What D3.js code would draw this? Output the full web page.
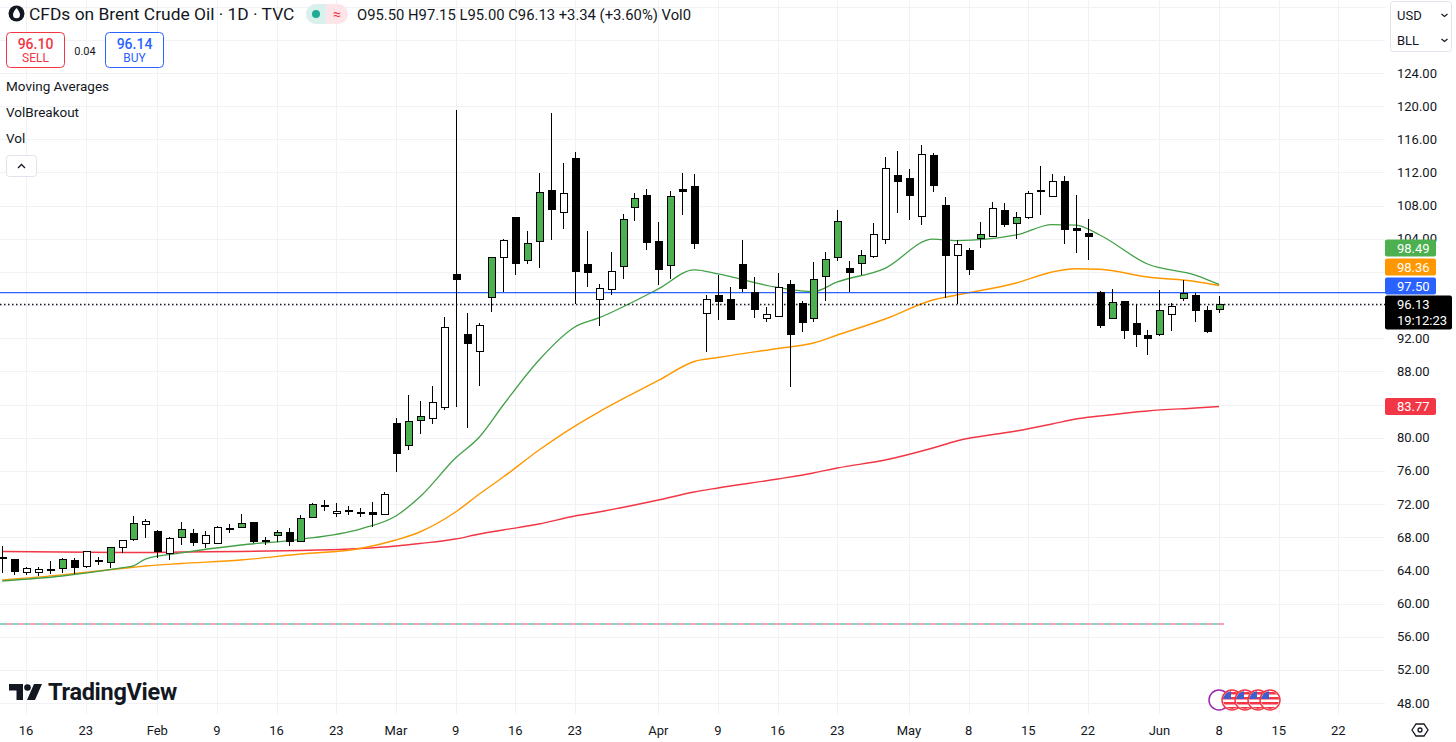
<!DOCTYPE html>
<html>
<head>
<meta charset="utf-8">
<script src="https://cdn.jsdelivr.net/npm/d3@7"></script>
<style>
  html, body { margin: 0; padding: 0; background: #fff; }
  svg { display: block; font-family: Roboto, "Noto Sans", sans-serif; }
</style>
</head>
<body>
<svg id="chart" width="1456" height="742"></svg>
<script>
// Velas diarias (indice de sesion 0 = 14 ene)
const opens = [65.6,65.34,63.77,63.7,64.1,64.2,65.17,64.45,65.2,64.97,
  66.74,67.75,69.56,68.67,66.06,67.99,68.47,67.27,67.27,69.03,
  69.15,69.75,67.58,68.15,68.59,67.46,70.35,71.8,70.88,71.23,
  71.03,71.0,70.8,81.66,79.12,82.06,82.34,83.67,99.75,92.48,
  90.46,96.94,101.77,106.51,101.44,103.7,109.8,107.16,113.71,100.93,
  96.62,97.94,100.63,107.79,109.28,103.66,100.72,109.97,110.29,95.0,
  97.1,96.62,100.93,97.5,94.41,94.6,98.43,96.22,94.41,99.43,
  101.77,100.36,100.96,101.85,103.93,111.58,111.29,106.67,114.03,107.96,
  101.96,102.53,104.01,104.25,107.47,105.87,106.55,109.83,109.08,110.97,
  105.26,104.66,97.55,94.41,96.46,93.8,92.36,92.48,94.89,96.82,
  97.18,95.29,95.50]
const highs = [66.9,65.4,64.45,64.45,65.1,65.5,65.45,66.35,65.65,66.8,
  67.7,70.6,70.23,68.87,68.06,69.8,68.95,68.79,69.39,69.55,
  70.8,69.87,68.06,68.87,69.07,70.68,72.16,72.49,72.1,71.77,
  71.56,72.28,73.49,82.34,85.16,84.47,86.27,94.6,119.54,95.08,
  93.8,101.84,103.94,106.51,104.98,111.9,119.14,113.11,114.43,104.98,
  98.5,102.44,106.99,109.49,109.97,105.99,109.77,111.9,111.82,97.22,
  99.63,98.22,103.85,99.43,95.81,99.84,99.03,96.46,101.16,102.37,
  107.47,101.36,102.65,105.87,113.83,114.63,112.38,115.28,114.31,109.0,
  103.86,102.93,105.99,108.48,108.28,107.19,109.77,112.78,111.82,111.58,
  109.28,106.39,97.7,97.91,96.46,96.1,93.0,97.82,96.3,99.03,
  97.5,95.89,97.15]
const lows = [63.7,63.4,63.45,63.35,63.6,63.65,63.55,64.3,64.6,64.25,
  66.13,67.58,67.87,65.45,65.25,67.06,66.94,66.67,67.18,68.45,
  69.15,67.27,67.06,67.46,66.94,67.46,70.27,71.2,70.4,70.68,
  70.48,69.27,70.68,75.9,78.52,80.45,81.66,83.35,83.75,81.21,
  86.27,95.2,97.62,99.63,100.93,100.44,103.86,105.15,96.13,98.23,
  93.48,97.22,99.11,106.18,102.65,98.43,99.15,106.87,102.77,90.38,
  94.2,94.29,97.62,94.41,94.0,94.6,86.15,92.79,93.93,96.53,
  101.36,97.62,99.63,101.64,103.37,107.15,106.27,105.66,109.68,96.82,
  96.13,99.63,102.85,104.25,105.46,103.95,106.35,106.87,109.08,103.33,
  102.32,101.44,93.28,94.41,91.88,90.9,89.98,92.27,92.88,96.54,
  94.0,92.67,95.00]
const closes = [65.4,63.9,64.17,64.1,64.0,65.34,64.37,66.26,65.05,66.75,
  67.66,69.68,69.87,66.26,67.79,68.87,67.34,68.15,69.19,68.95,
  69.6,67.54,67.5,68.59,67.46,70.27,71.97,71.74,71.16,71.17,
  70.97,70.8,73.17,78.12,81.94,82.54,84.23,93.32,99.03,91.39,
  93.56,101.72,103.82,101.05,103.46,109.64,107.59,109.49,100.04,99.91,
  98.02,100.11,106.27,108.84,103.53,100.24,109.16,109.68,103.46,96.73,
  96.4,94.29,98.02,95.41,94.89,98.15,92.48,93.88,99.03,101.56,
  106.06,99.91,101.97,104.5,112.5,110.89,109.28,114.11,110.37,101.97,
  103.34,100.24,104.54,107.68,105.75,106.55,109.49,109.77,110.89,105.18,
  104.94,104.25,93.6,96.34,92.91,92.48,91.95,95.29,95.89,97.34,
  95.33,92.79,96.13]
// b = negra, w = hueca, g = verde
const kinds = ("bbwwbgbwbg" + "wgwbwgbwwb" + "gbbgbggbwb" + "bbwbggwwbb" + "wgwbggbwbb" +
  "wwggbbgbbw" + "bbbbwwbbgg" + "gbgwwbbwbb" + "wbgwbgwbwb" + "bbbgbbbgwg" + "bbg").split('')

// Medias moviles
const maIdx  = [0,5,10,11,12,15,20,25,30,33,35,38,40,42,45,48,50,55,58,60,65,68,70,74,78,80,85,88,90,92,96,100,102]
const maFast = [62.72,63.32,64.29,64.53,65.37,66.10,67.06,67.75,68.99,70.56,72.85,77.55,80.09,83.95,89.38,93.36,94.45,97.95,100.24,99.76,98.13,97.62,98.79,100.44,103.97,103.77,104.46,105.72,105.66,104.46,100.96,99.63,98.49]
const maMid  = [62.84,63.46,64.23,64.38,64.53,64.83,65.25,65.97,66.64,67.66,68.63,71.04,73.21,75.26,78.52,81.41,83.10,86.91,89.20,89.68,90.77,91.43,92.39,94.32,96.62,97.22,98.67,99.99,100.39,100.32,99.39,98.85,98.36]
const maSlow = [66.28,66.22,66.16,66.16,66.16,66.22,66.28,66.40,66.64,66.94,67.24,67.78,68.39,68.87,69.59,70.56,71.04,72.49,73.46,73.94,75.02,75.75,76.35,77.31,78.76,79.61,80.81,81.66,82.26,82.62,83.23,83.59,83.77]

// Eje de tiempo
const tickIdx  = [2,7,13,18,23,28,33,38,43,48,55,60,65,70,76,81,86,91,97,102,107,112]
const tickText = ["16","23","Feb","9","16","23","Mar","9","16","23","Apr","9","16","23","May","8","15","22","Jun","8","15","22"]
// 100.00 y 96.00 quedan tapados por las etiquetas
const priceTicks = [48,52,56,60,64,68,72,76,80,84,88,92,104,108,112,116,120,124]
const gridPrices = d3.range(48, 133, 4)

// Niveles
const alertLevel = 97.50
const breakoutLevel = 57.53
const lastPrice = 96.13
const bid = 96.10
const ask = 96.14
const countdown = "19:12:23"

const plotW = 1385
const plotH = 714

const x = d3.scaleLinear().domain([0, 116]).range([2.2, 1386.1])
const y = d3.scaleLinear().domain([48, 124]).range([703, 73])

const svg = d3.select('#chart')
const ink = '#131722'

// Rejilla
const grid = svg.append('g')
grid.selectAll('line.h')
  .data(gridPrices)
  .join('line')
  .attr('x1', 0).attr('x2', plotW)
  .attr('y1', d => Math.round(y(d)) + 0.5)
  .attr('y2', d => Math.round(y(d)) + 0.5)
  .attr('stroke', '#f0f2f5')
grid.selectAll('line.v')
  .data(tickIdx)
  .join('line')
  .attr('x1', d => Math.round(x(d)) + 0.5)
  .attr('x2', d => Math.round(x(d)) + 0.5)
  .attr('y1', 0).attr('y2', plotH)
  .attr('stroke', '#f0f2f5')

// Linea VolBreakout (dos colores)
svg.append('line')
  .attr('x1', 0).attr('x2', x(102) + 5)
  .attr('y1', y(breakoutLevel)).attr('y2', y(breakoutLevel))
  .attr('stroke', '#8fcfc8').attr('stroke-width', 2)
  .attr('stroke-dasharray', '6,6')
svg.append('line')
  .attr('x1', 0).attr('x2', x(102) + 5)
  .attr('y1', y(breakoutLevel)).attr('y2', y(breakoutLevel))
  .attr('stroke', '#f4a3b0').attr('stroke-width', 2)
  .attr('stroke-dasharray', '6,6').attr('stroke-dashoffset', 6)

// Medias
const maLine = vals => d3.line()
  .x((d, k) => x(maIdx[k]))
  .y(d => y(d))
  .curve(d3.curveMonotoneX)(vals)

svg.append('path').attr('d', maLine(maSlow))
  .attr('fill', 'none').attr('stroke', '#f23645').attr('stroke-width', 1.4)
svg.append('path').attr('d', maLine(maMid))
  .attr('fill', 'none').attr('stroke', '#ff9800').attr('stroke-width', 1.4)
svg.append('path').attr('d', maLine(maFast))
  .attr('fill', 'none').attr('stroke', '#43a047').attr('stroke-width', 1.3)

// Lineas de precio
svg.append('line')
  .attr('x1', 0).attr('x2', plotW)
  .attr('y1', y(alertLevel)).attr('y2', y(alertLevel))
  .attr('stroke', '#2962ff').attr('stroke-width', 1.2)
svg.append('line')
  .attr('x1', 0).attr('x2', plotW)
  .attr('y1', Math.round(y(lastPrice)) + 0.5).attr('y2', Math.round(y(lastPrice)) + 0.5)
  .attr('stroke', ink).attr('stroke-width', 1.3)
  .attr('stroke-dasharray', '1.5,2.5')

// Velas
const candles = opens.map((o, i) => ({ i, o, h: highs[i], l: lows[i], c: closes[i], k: kinds[i] }))
const cg = svg.append('g').attr('shape-rendering', 'crispEdges')
cg.selectAll('line')
  .data(candles)
  .join('line')
  .attr('x1', d => Math.round(x(d.i)) + 0.5)
  .attr('x2', d => Math.round(x(d.i)) + 0.5)
  .attr('y1', d => y(d.h))
  .attr('y2', d => y(d.l))
  .attr('stroke', '#000')
cg.selectAll('rect')
  .data(candles)
  .join('rect')
  .attr('x', d => Math.round(x(d.i)) - 3)
  .attr('y', d => y(Math.max(d.o, d.c)))
  .attr('width', 7)
  .attr('height', d => Math.max(1, y(Math.min(d.o, d.c)) - y(Math.max(d.o, d.c))))
  .attr('fill', d => d.k === 'b' ? '#000' : d.k === 'g' ? '#4caf50' : '#fff')
  .attr('stroke', '#000')

// Eje de precios
svg.append('rect').attr('x', plotW).attr('y', 0).attr('width', 1456 - plotW).attr('height', 742).attr('fill', '#fff')
svg.append('g')
  .selectAll('text')
  .data(priceTicks)
  .join('text')
  .attr('x', 1397)
  .attr('y', d => y(d))
  .attr('dy', '0.35em')
  .attr('font-size', 13)
  .attr('fill', ink)
  .text(d => d.toFixed(2))

// Eje de tiempo
svg.append('g')
  .selectAll('text')
  .data(tickIdx)
  .join('text')
  .attr('x', d => x(d))
  .attr('y', 730)
  .attr('dy', '0.35em')
  .attr('text-anchor', 'middle')
  .attr('font-size', 13)
  .attr('fill', ink)
  .text((d, k) => tickText[k])

// Etiquetas de precio
const lastY = y(lastPrice)
const tags = [
  { v: maFast[maFast.length - 1], c: '#4caf50', cy: lastY - 56 },
  { v: maMid[maMid.length - 1], c: '#ff9800', cy: lastY - 37 },
  { v: alertLevel, c: '#2962ff', cy: lastY - 18 },
  { v: maSlow[maSlow.length - 1], c: '#f23645', cy: y(maSlow[maSlow.length - 1]) }
]
const tg = svg.append('g')
tg.selectAll('rect')
  .data(tags)
  .join('rect')
  .attr('x', plotW).attr('y', d => d.cy - 8.5)
  .attr('width', 51).attr('height', 17).attr('rx', 2)
  .attr('fill', d => d.c)
tg.selectAll('text')
  .data(tags)
  .join('text')
  .attr('x', 1397).attr('y', d => d.cy).attr('dy', '0.35em')
  .attr('font-size', 13).attr('fill', '#fff')
  .text(d => d.v.toFixed(2))
svg.append('rect')
  .attr('x', plotW).attr('y', lastY - 8.5).attr('width', 67).attr('height', 34).attr('rx', 2)
  .attr('fill', '#000')
svg.append('text').attr('x', 1397).attr('y', lastY).attr('dy', '0.35em')
  .attr('font-size', 13).attr('fill', '#fff').text(lastPrice.toFixed(2))
svg.append('text').attr('x', 1397).attr('y', lastY + 16).attr('dy', '0.35em')
  .attr('font-size', 13).attr('fill', '#fff').text(countdown)

// Cabecera
svg.append('circle').attr('cx', 16.5).attr('cy', 13.5).attr('r', 8).attr('fill', ink)
svg.append('path')
  .attr('d', 'M16.5,8 C14.5,10.5 13,12.8 13,14.8 a3.5,3.5 0 0 0 7,0 C20,12.8 18.5,10.5 16.5,8 Z')
  .attr('fill', '#fff')
svg.append('text')
  .attr('x', 29).attr('y', 20)
  .attr('font-size', 17.4).attr('fill', ink)
  .text('CFDs on Brent Crude Oil · 1D · TVC')

svg.append('rect').attr('x', 306).attr('y', 4).attr('width', 42).attr('height', 20).attr('rx', 10).attr('fill', '#fde4e8')
svg.append('path').attr('d', 'M326,4 h-10 a10,10 0 0 0 0,20 h10 Z').attr('fill', '#d9f1ed')
svg.append('circle').attr('cx', 316).attr('cy', 14).attr('r', 4).attr('fill', '#22ab94')
svg.append('text').attr('x', 337).attr('y', 14).attr('dy', '0.35em').attr('text-anchor', 'middle')
  .attr('font-size', 14).attr('fill', '#f23645').text('≈')

const last = opens.length - 1
const chg = closes[last] - closes[last - 1]
svg.append('text')
  .attr('x', 357).attr('y', 19.5)
  .attr('font-size', 14.8).attr('fill', ink)
  .text(`O${opens[last].toFixed(2)} H${highs[last].toFixed(2)} L${lows[last].toFixed(2)} C${closes[last].toFixed(2)} +${chg.toFixed(2)} (+${(chg / closes[last - 1] * 100).toFixed(2)}%) Vol0`)

// Botones de compra / venta
const quote = [
  { x: 6.5, v: bid, t: 'SELL', c: '#f23645' },
  { x: 105.5, v: ask, t: 'BUY', c: '#2962ff' }
]
const qg = svg.append('g')
qg.selectAll('rect').data(quote).join('rect')
  .attr('x', d => d.x).attr('y', 32.5).attr('width', 58).attr('height', 35).attr('rx', 4)
  .attr('fill', '#fff').attr('stroke', d => d.c)
qg.selectAll('text.v').data(quote).join('text')
  .attr('x', d => d.x + 29).attr('y', 44).attr('dy', '0.35em').attr('text-anchor', 'middle')
  .attr('font-size', 14).attr('font-weight', 500).attr('fill', d => d.c).text(d => d.v.toFixed(2))
svg.append('g').selectAll('text').data(quote).join('text')
  .attr('x', d => d.x + 29).attr('y', 58).attr('dy', '0.35em').attr('text-anchor', 'middle')
  .attr('font-size', 12).attr('fill', d => d.c).text(d => d.t)
svg.append('text').attr('x', 85).attr('y', 51).attr('dy', '0.35em').attr('text-anchor', 'middle')
  .attr('font-size', 11).attr('fill', ink).text((ask - bid).toFixed(2))

// Indicadores
svg.append('g').selectAll('text')
  .data(['Moving Averages', 'VolBreakout', 'Vol'])
  .join('text')
  .attr('x', 6).attr('y', (d, k) => 86 + k * 26).attr('dy', '0.35em')
  .attr('font-size', 13.5).attr('fill', ink)
  .text(d => d)
svg.append('rect').attr('x', 6.5).attr('y', 155.5).attr('width', 30).attr('height', 21).attr('rx', 3)
  .attr('fill', '#fff').attr('stroke', '#e0e3eb')
svg.append('path').attr('d', 'M18,168 l3.5,-3.5 l3.5,3.5').attr('fill', 'none').attr('stroke', ink).attr('stroke-width', 1.3)

// Moneda / unidad
svg.append('rect').attr('x', 1390.5).attr('y', 1.5).attr('width', 61).attr('height', 50).attr('rx', 3)
  .attr('fill', '#fff').attr('stroke', '#e0e3eb')
svg.append('g').selectAll('text').data(['USD', 'BLL']).join('text')
  .attr('x', 1397).attr('y', (d, k) => 15 + k * 25).attr('dy', '0.35em')
  .attr('font-size', 13).attr('fill', ink).text(d => d)
svg.append('g').selectAll('path').data([0, 1]).join('path')
  .attr('d', k => `M1441.5,${14 + k * 25} l3,2.5 l3,-2.5`)
  .attr('fill', 'none').attr('stroke', ink).attr('stroke-width', 1.2)

// Logo TradingView
svg.append('path').attr('d', 'M9,684 h14 v16 h-6.5 v-9.5 h-7.5 Z').attr('fill', ink)
svg.append('circle').attr('cx', 27.5).attr('cy', 687.5).attr('r', 3.3).attr('fill', ink)
svg.append('path').attr('d', 'M34,684 h8 l-7,16 h-8 Z').attr('fill', ink)
svg.append('text').attr('x', 48).attr('y', 700)
  .attr('font-size', 23.5).attr('font-weight', 700).attr('fill', ink).attr('letter-spacing', -0.3)
  .text('TradingView')

// Eventos (banderas)
const flags = [1232, 1245, 1258, 1270]
svg.append('circle').attr('cx', 1219).attr('cy', 700).attr('r', 10).attr('fill', '#fff')
  .attr('stroke', '#9c27b0').attr('stroke-width', 1.5)
const defs = svg.append('defs')
flags.forEach((fx, k) => {
  defs.append('clipPath').attr('id', 'fl' + k).append('circle').attr('cx', fx).attr('cy', 700).attr('r', 9)
  const fg = svg.append('g')
  fg.append('circle').attr('cx', fx).attr('cy', 700).attr('r', 10).attr('fill', '#fff')
  const inner = fg.append('g').attr('clip-path', `url(#fl${k})`)
  ;[692, 697, 702, 707].forEach(sy => inner.append('rect').attr('x', fx - 10).attr('y', sy).attr('width', 20).attr('height', 2.5).attr('fill', '#f23645'))
  inner.append('rect').attr('x', fx - 9).attr('y', 691).attr('width', 8).attr('height', 8).attr('fill', '#3f5fcf')
  fg.append('circle').attr('cx', fx).attr('cy', 700).attr('r', 10).attr('fill', 'none')
    .attr('stroke', '#f23645').attr('stroke-width', 1.5)
})

// Icono inferior derecho
svg.append('path').attr('d', 'M1412,730 l4,-6 h8 l4,6 l-4,6 h-8 Z')
  .attr('fill', 'none').attr('stroke', ink).attr('stroke-width', 1.3)
svg.append('circle').attr('cx', 1420).attr('cy', 730).attr('r', 2).attr('fill', 'none').attr('stroke', ink).attr('stroke-width', 1.3)
</script>
</body>
</html>
